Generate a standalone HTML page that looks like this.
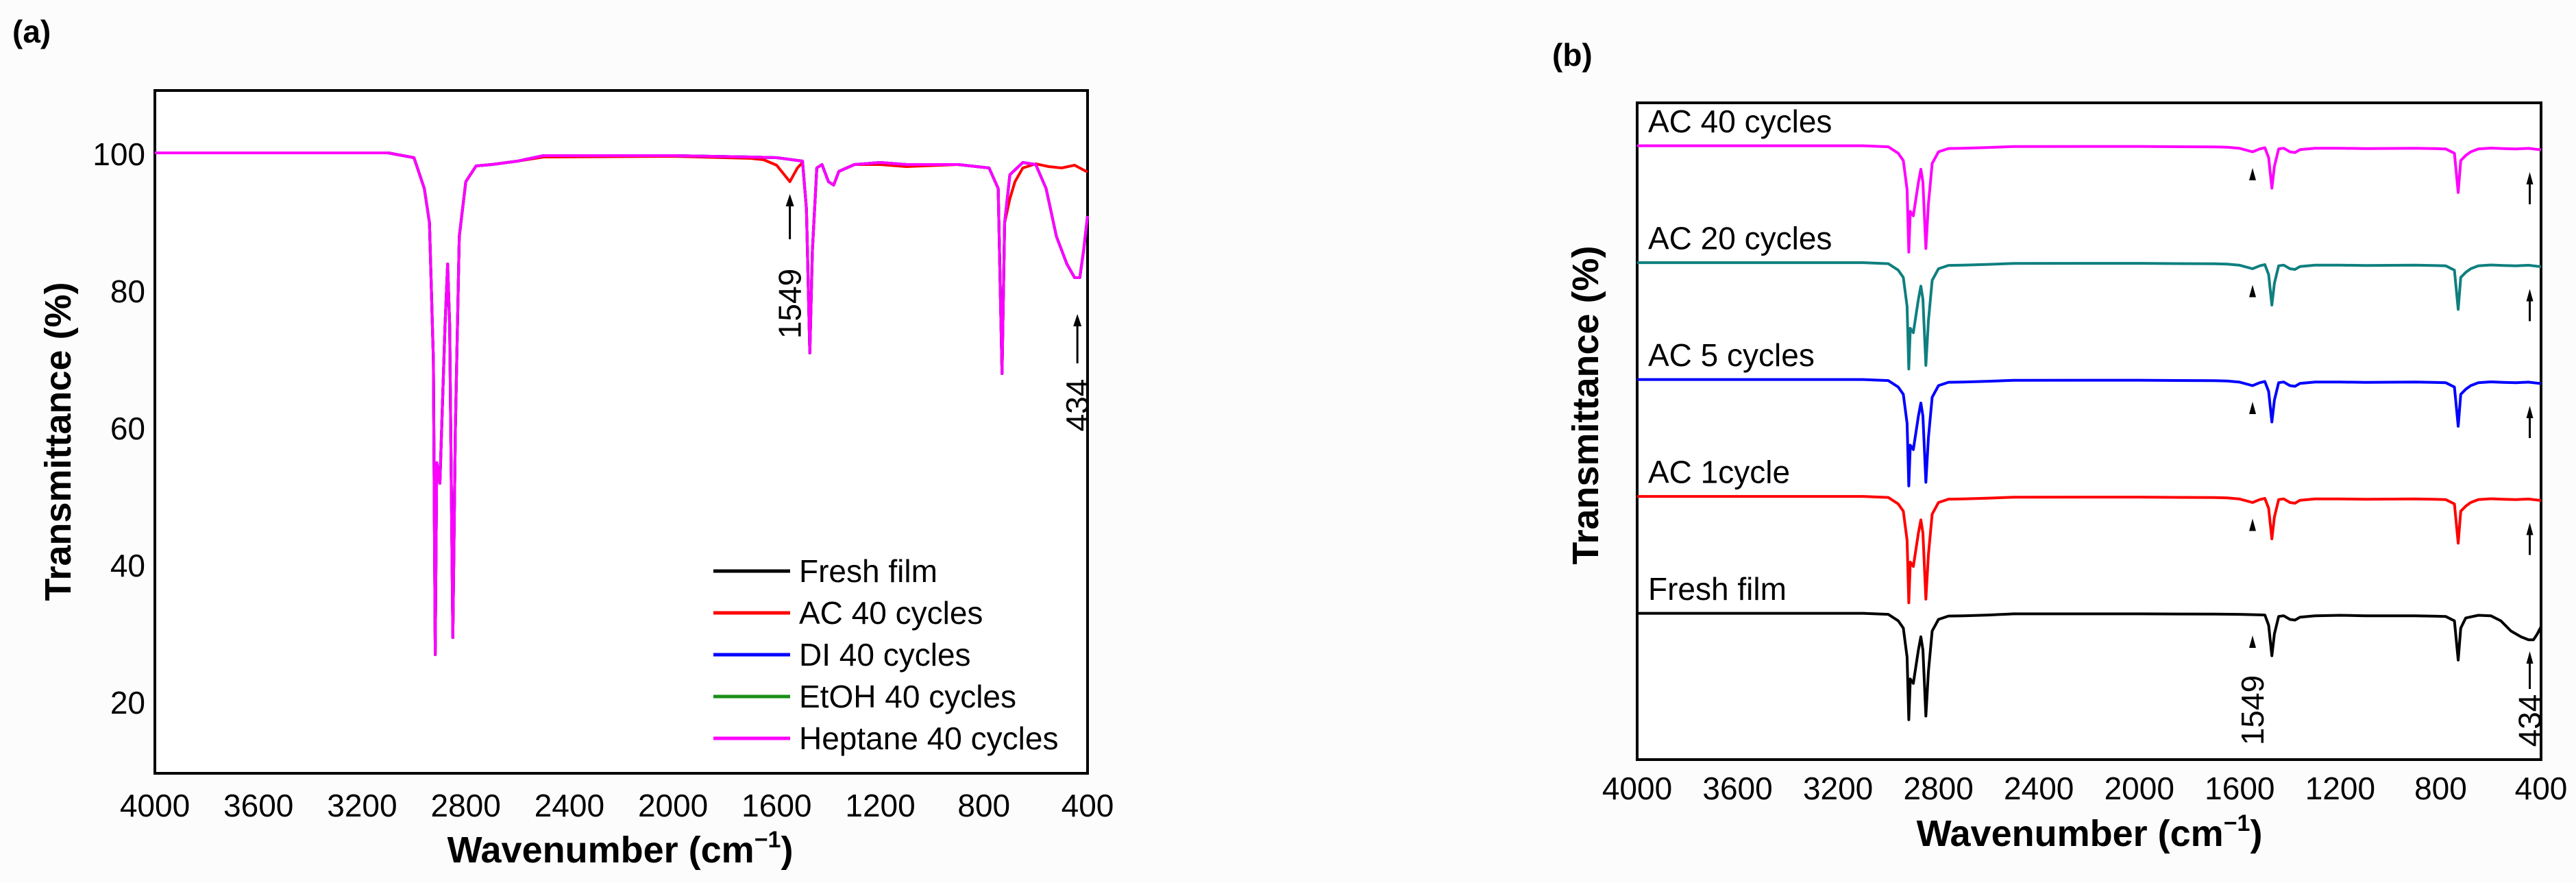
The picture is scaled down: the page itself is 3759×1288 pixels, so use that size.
<!DOCTYPE html>
<html><head><meta charset="utf-8"><style>
html,body{margin:0;padding:0;background:#fcfcfc;}
svg{display:block;font-family:"Liberation Sans",Arial,sans-serif;}
</style></head><body>
<svg id="fig" width="3759" height="1288" viewBox="0 0 3759 1288">
<rect x="0" y="0" width="3759" height="1288" fill="#fcfcfc"/>
<g id="pa"></g>
<g id="pb"></g>
</svg>
<script>
// ---- data (wavenumber cm-1, transmittance %) ----
const xTicks = [4000,3600,3200,2800,2400,2000,1600,1200,800,400];
const yTicksA = [20,40,60,80,100];
const freshWn = [4000,3100,3000,2960,2940,2925,2918,2912,2900,2880,2870,2862,2850,2840,2825,2800,2760,2700,2600,2500,2000,1700,1600,1500,1485,1472,1462,1445,1425,1400,1380,1360,1300,1200,1100,900,780,745,730,720,700,650,600,560,520,480,450,430,415,400];
const freshT  = [100.2,100.2,99.5,95,90,70,27,55,52,75,84,75,29.5,60,88,96,98.3,98.5,99,99.8,99.8,99.6,99.5,99,92,71,86,98,98.5,96,95.5,97.5,98.5,98.8,98.5,98.5,98,95,68,90,97,98.8,98.5,95,88,84,82,82,86,91];
const acWn = [4000,3100,3000,2960,2940,2925,2918,2912,2900,2880,2870,2862,2850,2840,2825,2800,2760,2700,2600,2500,2000,1700,1650,1600,1549,1520,1500,1485,1472,1462,1445,1425,1400,1380,1360,1300,1200,1100,900,780,745,730,720,700,680,650,600,550,500,450,420,400];
const acT  = [100.2,100.2,99.5,95,90,70,27,55,52,75,84,75,29.5,60,88,96,98.3,98.5,99,99.6,99.7,99.4,99.2,98.4,96,98,98.8,92,71,86,98,98.5,96,95.5,97.5,98.5,98.5,98.2,98.5,98,95,68,90,93.5,96,98,98.6,98.2,98,98.4,97.8,97.4];
const seriesA = ["Fresh film","AC 40 cycles","DI 40 cycles","EtOH 40 cycles","Heptane 40 cycles"];
const colorsA = ["#000000","#ff0000","#0000ff","#1a8f1a","#ff00ff"];
const seriesB = ["Fresh film","AC 1cycle","AC 5 cycles","AC 20 cycles","AC 40 cycles"];
const colorsB = ["#000000","#ff0000","#0000ff","#0f7f7f","#ff00ff"];
const offsetsB = [0,1,2,3,4];

const NS="http://www.w3.org/2000/svg";
function mk(parent,tag,attrs,text){const e=document.createElementNS(NS,tag);for(const k in attrs)e.setAttribute(k,attrs[k]);if(text!==undefined)e.textContent=text;parent.appendChild(e);return e;}

// ---- panel a ----
const pa=document.getElementById('pa');
const A={l:226,r:1587,t:132,b:1128,ymin:9.7,ymax:109.3};
const xa=w=>A.l+(4000-w)/3600*(A.r-A.l);
const ya=v=>A.b-(v-A.ymin)/(A.ymax-A.ymin)*(A.b-A.t);
function pathA(wn,t){return wn.map((w,i)=>(i?'L':'M')+xa(w).toFixed(1)+' '+ya(t[i]).toFixed(1)).join(' ');}
let t;
t=mk(pa,'text',{x:18,y:62,'font-size':46,'font-weight':'bold'},'(a)');


let r=mk(pa,'rect',{x:A.l,y:A.t,width:A.r-A.l,height:A.b-A.t,fill:'#fff',stroke:'#000','stroke-width':4});


const dataA=[[freshWn,freshT],[acWn,acT],[freshWn,freshT],[freshWn,freshT],[freshWn,freshT]];
const drawOrder=[0,1,3,2,4];
drawOrder.forEach(i=>{
  let p=mk(pa,'path',{d:pathA(dataA[i][0],dataA[i][1]),fill:'none',stroke:colorsA[i],'stroke-width':4,'stroke-linejoin':'round'});
  
  
});
xTicks.forEach(v=>{
  let e=mk(pa,'text',{x:xa(v),y:1191,'font-size':46,'text-anchor':'middle'},String(v));
  
  
});
yTicksA.forEach(v=>{
  let e=mk(pa,'text',{x:212,y:ya(v)+16,'font-size':46,'text-anchor':'end'},String(v));
  
  
});
t=mk(pa,'text',{x:0,y:0,'font-size':54,'font-weight':'bold','text-anchor':'middle',transform:'translate(103,644) rotate(-90)'},'Transmittance (%)');


t=mk(pa,'text',{x:905,y:1258,'font-size':54,'font-weight':'bold','text-anchor':'middle'});
t.innerHTML='Wavenumber (cm<tspan dy="-22" font-size="34">−1</tspan><tspan dy="22">)</tspan>';


// annotations a
function arrow(g,x,y1,y2,w,name){
  let l=mk(g,'line',{x1:x,y1:y1,x2:x,y2:y2+14,stroke:'#000','stroke-width':3});
  
  
  let h=mk(g,'polygon',{points:`${x-w},${y2+18} ${x+w},${y2+18} ${x},${y2}`,fill:'#000'});
  
  
}
arrow(pa,xa(1549),349,283,6,'arrow-1549-a');
arrow(pa,xa(434)-2,530,458,6,'arrow-434-a');
t=mk(pa,'text',{x:0,y:0,'font-size':46,'text-anchor':'middle',transform:`translate(${xa(1549)+16},443) rotate(-90)`},'1549');


t=mk(pa,'text',{x:0,y:0,'font-size':46,'text-anchor':'middle',transform:`translate(${xa(434)+14},591) rotate(-90)`},'434');


// legend a
seriesA.forEach((s,i)=>{
  const y=833+i*61;
  let l=mk(pa,'line',{x1:1041,y1:y,x2:1153,y2:y,stroke:colorsA[i],'stroke-width':5});
  
  
  let e=mk(pa,'text',{x:1166,y:y+16,'font-size':46},s);
  
  
});

// ---- panel b ----
const pb=document.getElementById('pb');
const B={l:2389,r:3708,t:150,b:1108,base0:895,step:170.5,k:2.12};
const xb=w=>B.l+(4000-w)/3600*(B.r-B.l);
const yb=(v,o)=>B.base0-o*B.step+(100-v)*B.k;
t=mk(pb,'text',{x:2265,y:96,'font-size':46,'font-weight':'bold'},'(b)');


r=mk(pb,'rect',{x:B.l,y:B.t,width:B.r-B.l,height:B.b-B.t,fill:'#fff',stroke:'#000','stroke-width':4});


seriesB.forEach((s,i)=>{
  const wn=i===0?freshWn:acWn, tv=i===0?freshT:acT, o=offsetsB[i];
  const d=wn.map((w,j)=>(j?'L':'M')+xb(w).toFixed(1)+' '+yb(tv[j],o).toFixed(1)).join(' ');
  let p=mk(pb,'path',{d:d,fill:'none',stroke:colorsB[i],'stroke-width':4,'stroke-linejoin':'round'});
  
  
  let e=mk(pb,'text',{x:2405,y:yb(100,o)-20,'font-size':46},s);
  
  
  const by=yb(100,o);
  let tri=mk(pb,'polygon',{points:`${xb(1549)-5},${by+50} ${xb(1549)+5},${by+50} ${xb(1549)},${by+32}`,fill:'#000'});
  
  
  if(i>0) arrow(pb,xb(434)-4,by+85,by+38,5,'arrow-434-b-'+i);
});
arrow(pb,xb(434)-4,1005,950,5,'arrow-434-b-0');
t=mk(pb,'text',{x:0,y:0,'font-size':46,'text-anchor':'middle',transform:`translate(${xb(1549)+16},1036) rotate(-90)`},'1549');


t=mk(pb,'text',{x:0,y:0,'font-size':46,'text-anchor':'middle',transform:`translate(${xb(434)+12},1051) rotate(-90)`},'434');


xTicks.forEach(v=>{
  let e=mk(pb,'text',{x:xb(v),y:1166,'font-size':46,'text-anchor':'middle'},String(v));
  
  
});
t=mk(pb,'text',{x:0,y:0,'font-size':54,'font-weight':'bold','text-anchor':'middle',transform:'translate(2332,591) rotate(-90)'},'Transmittance (%)');


t=mk(pb,'text',{x:3049,y:1234,'font-size':54,'font-weight':'bold','text-anchor':'middle'});
t.innerHTML='Wavenumber (cm<tspan dy="-22" font-size="34">−1</tspan><tspan dy="22">)</tspan>';


</script>
</body></html>
